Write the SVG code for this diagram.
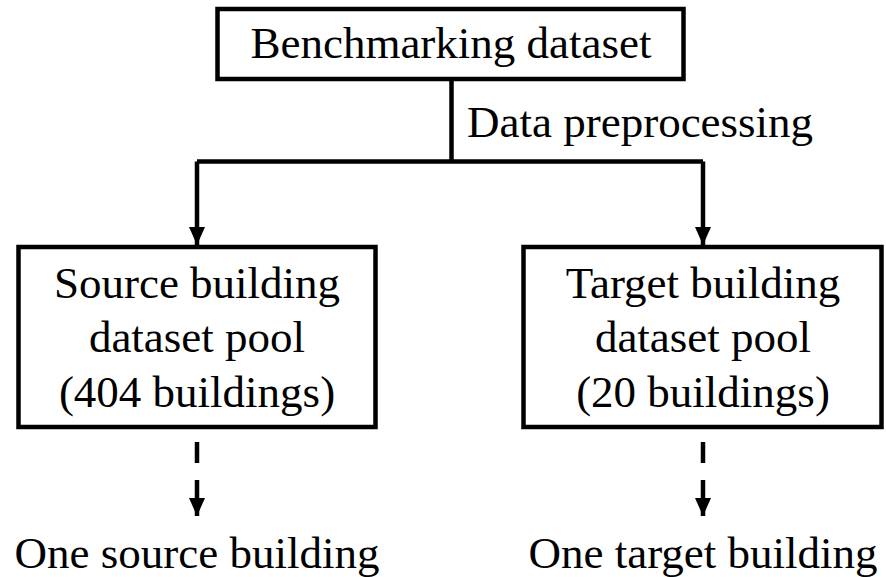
<svg xmlns="http://www.w3.org/2000/svg" width="886" height="577" viewBox="0 0 886 577" font-family="Liberation Serif, serif">
<defs>
<style>
.box{fill:#fff;stroke:#000;stroke-width:4.5}
.t{font-size:45px;fill:#000;text-anchor:middle}
.ln{fill:none;stroke:#000;stroke-width:4.5}
</style>
<marker id="ah" markerUnits="userSpaceOnUse" markerWidth="18" markerHeight="18" viewBox="0 0 18 18" refX="18" refY="9" orient="auto">
<path d="M0,1 L18,9 L0,17 Z" fill="#000"/>
</marker>
</defs>
<rect width="886" height="577" fill="#fff"/>
<g id="connectors">
<path class="ln" d="M451.5,80 V161.5 M197,161.5 H703"/>
<path class="ln" d="M197,161.5 V245" marker-end="url(#ah)"/>
<path class="ln" d="M703,161.5 V245" marker-end="url(#ah)"/>
<path class="ln" d="M197,442 V463"/>
<path class="ln" d="M197,480 V516" marker-end="url(#ah)"/>
<path class="ln" d="M703,442 V463"/>
<path class="ln" d="M703,480 V516" marker-end="url(#ah)"/>
<text class="t" x="467" y="137" style="text-anchor:start" font-family="Liberation Serif">Data preprocessing</text>
</g>
<g id="benchmarking">
<rect class="box" x="217.5" y="9" width="466" height="70"/>
<text class="t" x="451" y="58" font-family="Liberation Serif">Benchmarking dataset</text>
</g>
<g id="source-pool">
<rect class="box" x="18.5" y="247" width="357" height="180"/>
<text class="t" x="197" y="298" font-family="Liberation Serif">Source building</text>
<text class="t" x="197" y="352" font-family="Liberation Serif">dataset pool</text>
<text class="t" x="197" y="407" font-family="Liberation Serif">(404 buildings)</text>
</g>
<g id="target-pool">
<rect class="box" x="523.5" y="247" width="358" height="180"/>
<text class="t" x="703" y="298" font-family="Liberation Serif">Target building</text>
<text class="t" x="703" y="352" font-family="Liberation Serif">dataset pool</text>
<text class="t" x="703" y="407" font-family="Liberation Serif">(20 buildings)</text>
</g>
<g id="one-source">
<text class="t" x="197" y="568" font-family="Liberation Serif">One source building</text>
</g>
<g id="one-target">
<text class="t" x="703" y="568" font-family="Liberation Serif">One target building</text>
</g>
</svg>
